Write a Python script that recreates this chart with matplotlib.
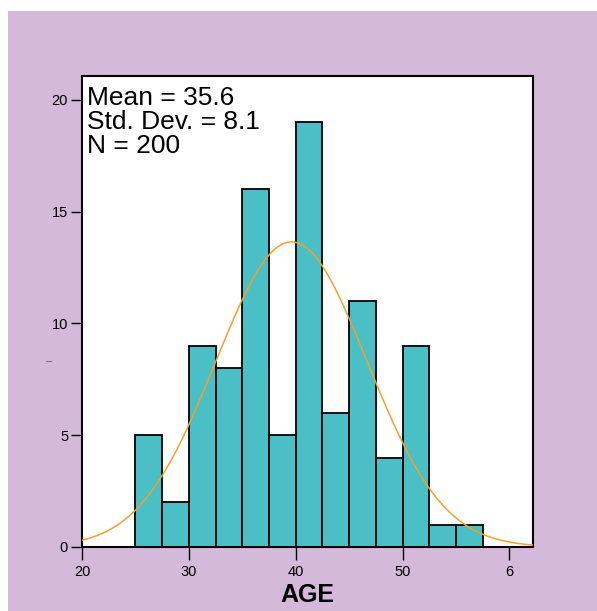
import numpy as np
import matplotlib
matplotlib.use("Agg")
import matplotlib.pyplot as plt
from matplotlib.patches import Rectangle

# ---- data ----
bin_edges = [25, 27.5, 30, 32.5, 35, 37.5, 40, 42.5, 45, 47.5, 50, 52.5, 55, 57.5]
counts = [5, 2, 9, 8, 16, 5, 19, 6, 11, 4, 9, 1, 1]
x_ticks = [20, 30, 40, 50, 60]
x_tick_labels = ["20", "30", "40", "50", "6"]
y_ticks = [0, 5, 10, 15, 20]
y_tick_labels = ["0", "5", "10", "15", "20"]
curve_mean = 39.6
curve_sd = 7.1
curve_peak = 13.65
stats_text = ["Mean = 35.6", "Std. Dev. = 8.1", "N = 200"]

W, H = 597, 611
fig = plt.figure(figsize=(W / 100, H / 100), dpi=100, facecolor="white")
plt.rcParams['font.family'] = ['Liberation Sans', 'DejaVu Sans']

purple = "#D5B9DA"
fig.patches.append(Rectangle((8 / W, 0), 1 - 8 / W, 1 - 11 / H, transform=fig.transFigure,
                             facecolor=purple, edgecolor="none", zorder=-10))

left, right, top, bottom = 82, 533, 76, 547
ax = fig.add_axes([left / W, 1 - bottom / H, (right - left) / W, (bottom - top) / H])
ax.set_facecolor("white")

widths = np.diff(bin_edges)
ax.bar(bin_edges[:-1], counts, width=widths, align="edge", color="#4AC0C6",
       edgecolor="black", linewidth=1.3, zorder=2)

xs = np.linspace(20, 62.2, 400)
ys = curve_peak * np.exp(-(xs - curve_mean) ** 2 / (2 * curve_sd ** 2))
ax.plot(xs, ys, color="#F5A030", linewidth=1.1, zorder=3)

ax.set_xlim(20, 62.2)
ax.set_ylim(0, 21.07)
ax.set_xticks(x_ticks)
ax.set_xticklabels(x_tick_labels, fontsize=10.5)
ax.set_yticks(y_ticks)
ax.set_yticklabels(y_tick_labels, fontsize=10.5)
ax.tick_params(axis="x", direction="out", length=9, width=1, color="black", pad=4)
ax.tick_params(axis="y", direction="out", length=8, width=1, color="black", pad=2)
for s in ax.spines.values():
    s.set_linewidth(1.5)
    s.set_color("black")

ax.text(0.012, 0.978, "\n".join(stats_text), transform=ax.transAxes, ha="left", va="top",
        fontsize=19, linespacing=0.98, zorder=5)

ax.set_xlabel("AGE", fontsize=18, fontweight="bold", labelpad=3)
fig.text(49 / W, 1 - 361 / H, "\u2013", fontsize=8, color="#555555", ha="center", va="center")

fig.savefig("out.png", dpi=100, facecolor=fig.get_facecolor())
